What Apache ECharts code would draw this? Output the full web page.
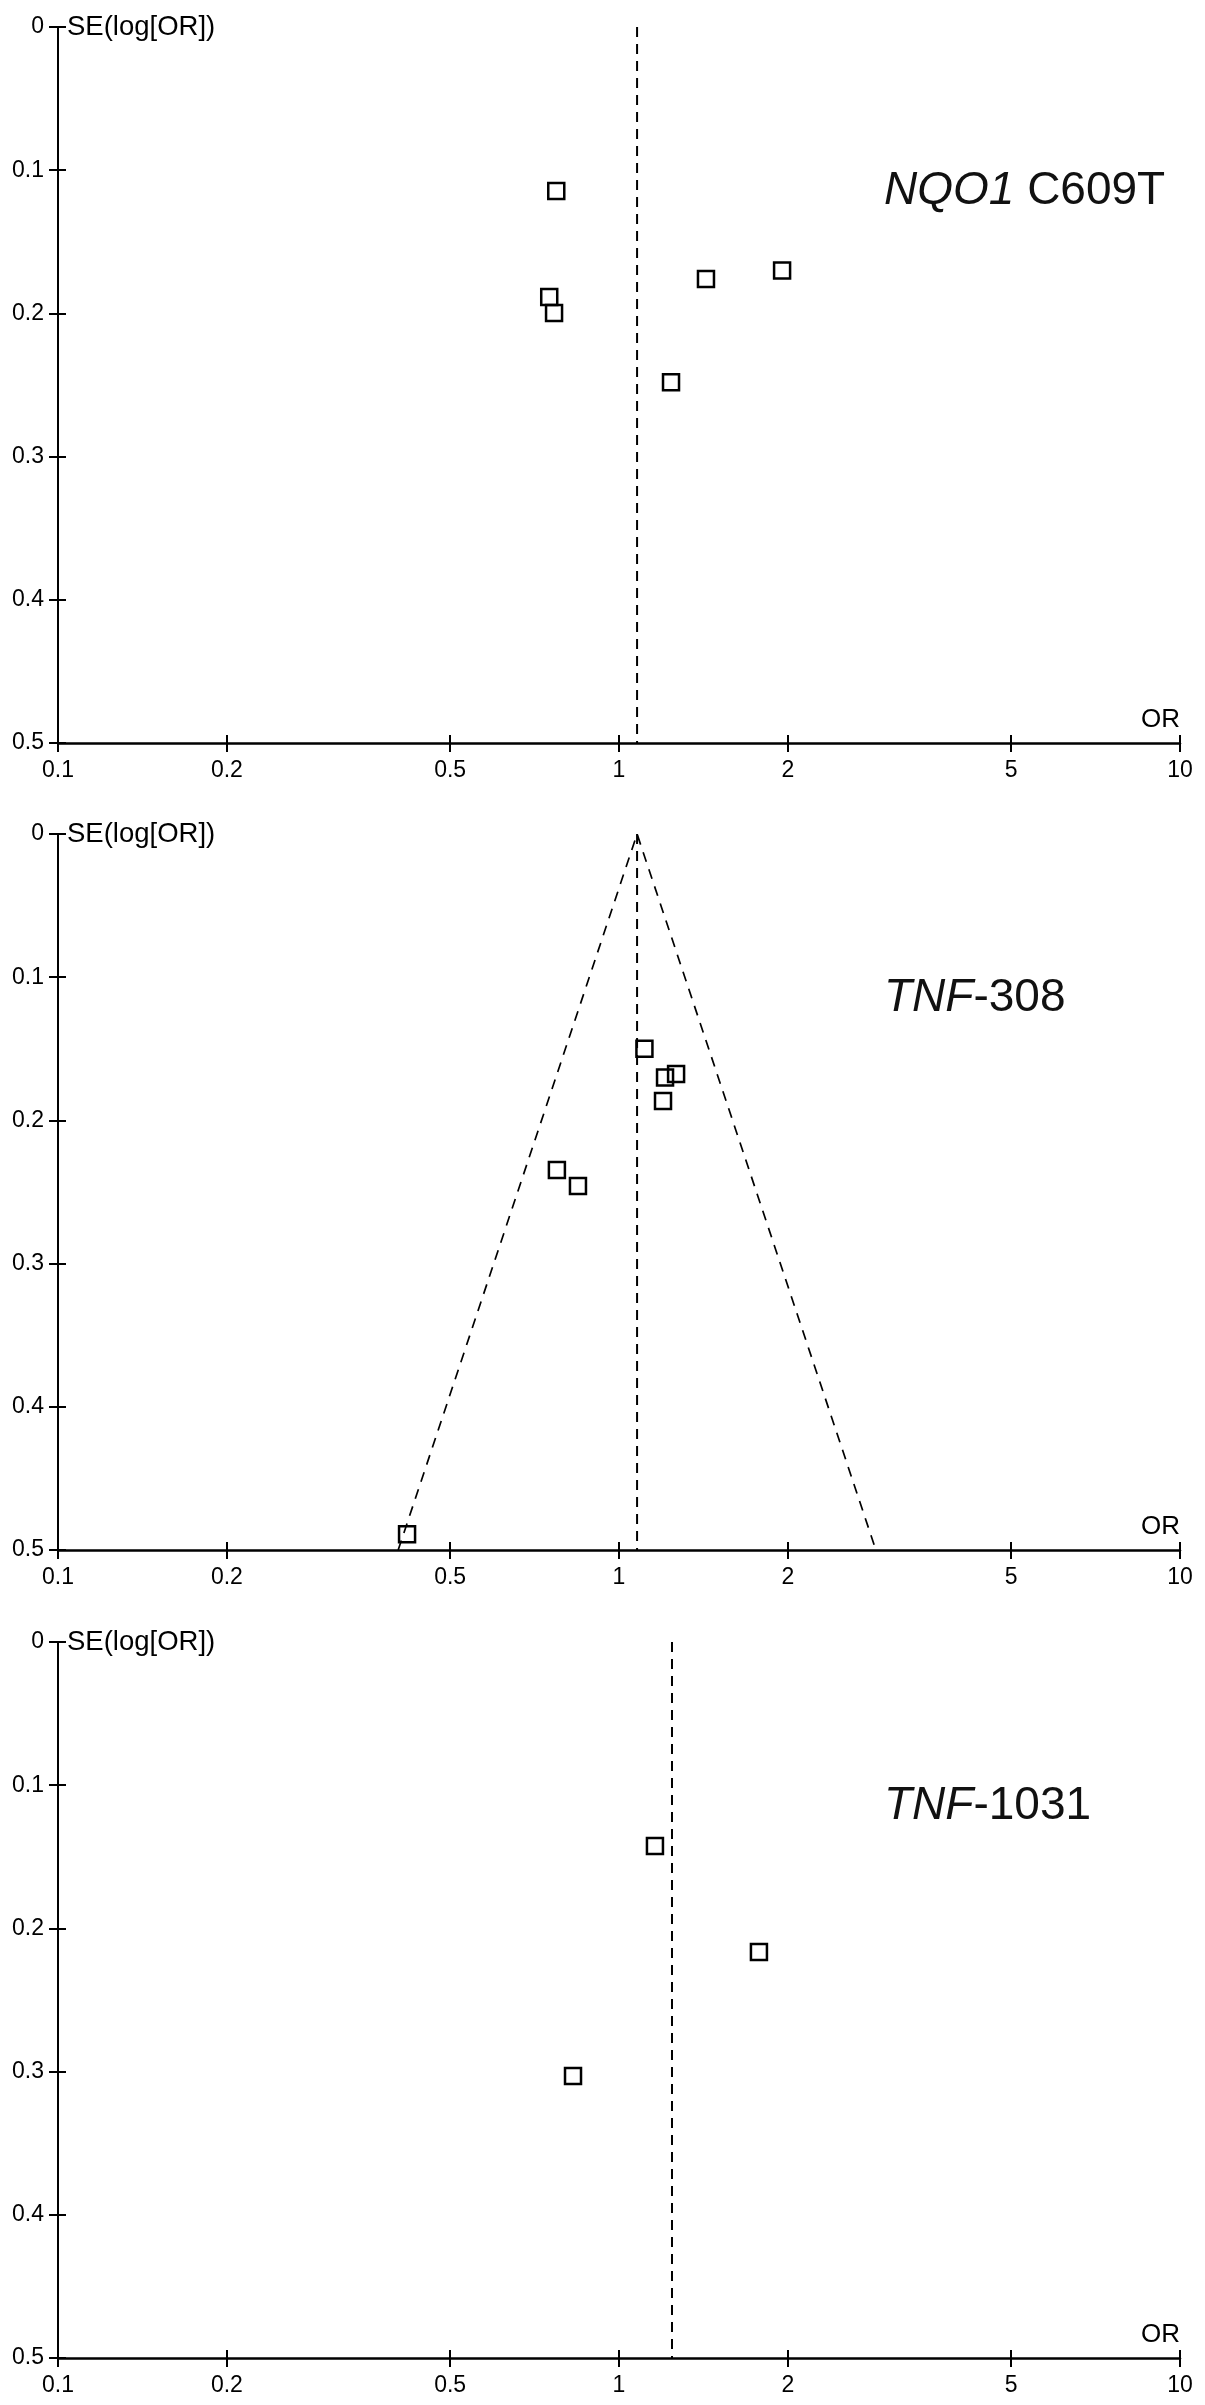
<!DOCTYPE html>
<html>
<head>
<meta charset="utf-8">
<title>Funnel plots</title>
<script src="https://cdn.jsdelivr.net/npm/echarts@6/dist/echarts.min.js"></script>
<style>
  html, body { margin: 0; padding: 0; background: #fff; }
  #main { width: 1205px; height: 2405px; }
</style>
</head>
<body>
<div id="main"></div>
<script>
// axis ticks: OR on a log scale, SE(log[OR]) running downwards
const orTicks = [0.1, 0.2, 0.5, 1, 2, 5, 10];
const orTickLabels = ['0.1', '0.2', '0.5', '1', '2', '5', '10'];
const seTickLabels = ['0', '0.1', '0.2', '0.3', '0.4', '0.5'];

// NQO1 C609T
const nqoOR = [0.773, 0.751, 0.766, 1.429, 1.953, 1.238];
const nqoSE = [0.1145, 0.1886, 0.1997, 0.176, 0.170, 0.248];
const nqoPooled = 1.077;

// TNF-308
const tnf308OR = [1.11, 1.208, 1.264, 1.198, 0.775, 0.845, 0.419];
const tnf308SE = [0.150, 0.170, 0.1676, 0.1865, 0.2346, 0.2458, 0.489];
const tnf308Pooled = 1.077;
const tnf308Limits = [0.404, 2.87]; // pseudo 95% limits at SE = 0.5

// TNF-1031
const tnf1031OR = [1.159, 1.776, 0.828];
const tnf1031SE = [0.1425, 0.2165, 0.303];
const tnf1031Pooled = 1.243;

const FONT = 'Liberation Sans';
const lg = v => Math.log10(v);
const xTickVals = orTicks.map(lg);

function orFormatter(v) {
  let best = 0;
  xTickVals.forEach((t, k) => {
    if (Math.abs(t - v) < Math.abs(xTickVals[best] - v)) best = k;
  });
  return orTickLabels[best];
}

const panels = [
  { top: 27, label: '{i|NQO1}{n| C609T}', or: nqoOR, se: nqoSE, pooled: nqoPooled },
  { top: 834, label: '{i|TNF}{n|-308}', or: tnf308OR, se: tnf308SE, pooled: tnf308Pooled, limits: tnf308Limits },
  { top: 1642, label: '{i|TNF}{n|-1031}', or: tnf1031OR, se: tnf1031SE, pooled: tnf1031Pooled }
];
const plotH = 716;
const black = { color: '#000', width: 2 };

const grid = [], xAxis = [], yAxis = [], series = [], title = [];

panels.forEach((p, i) => {
  grid.push({ left: 58, right: 25, top: p.top, height: plotH });

  // main axes (outer ticks, labels, names)
  xAxis.push({
    gridIndex: i, type: 'value', min: -1, max: 1, position: 'bottom',
    splitLine: { show: false },
    axisLine: { onZero: false, lineStyle: { color: '#000', width: 2.5 } },
    axisTick: { length: 9, customValues: xTickVals, lineStyle: black },
    axisLabel: {
      customValues: xTickVals, formatter: orFormatter, margin: 16,
      color: '#000', fontSize: 23, fontFamily: FONT
    },
    name: 'OR', nameLocation: 'end', nameGap: 0,
    nameTextStyle: {
      align: 'right', verticalAlign: 'bottom', padding: [0, 0, 10, 0],
      color: '#000', fontSize: 26, fontFamily: FONT
    }
  });
  yAxis.push({
    gridIndex: i, type: 'value', min: 0, max: 0.5, interval: 0.1, inverse: true, position: 'left',
    splitLine: { show: false },
    axisLine: { onZero: false, lineStyle: black },
    axisTick: { length: 9, lineStyle: black },
    axisLabel: {
      formatter: v => seTickLabels[Math.round(v * 10)], margin: 14, padding: [10, 0, 0, 0],
      color: '#000', fontSize: 23, fontFamily: FONT
    },
    name: 'SE(log[OR])', nameLocation: 'start', nameGap: 0,
    nameTextStyle: {
      align: 'left', verticalAlign: 'middle', padding: [0, 0, 0, 9],
      color: '#000', fontSize: 27.5, fontFamily: FONT
    }
  });
  // second pair only for the inner half of the crossing ticks
  xAxis.push({
    gridIndex: i, type: 'value', min: -1, max: 1, position: 'bottom',
    splitLine: { show: false }, axisLabel: { show: false },
    axisLine: { show: false, onZero: false },
    axisTick: { inside: true, length: 8, customValues: xTickVals, lineStyle: black }
  });
  yAxis.push({
    gridIndex: i, type: 'value', min: 0, max: 0.5, interval: 0.1, inverse: true, position: 'left',
    splitLine: { show: false }, axisLabel: { show: false },
    axisLine: { show: false, onZero: false },
    axisTick: { inside: true, length: 8, lineStyle: black }
  });

  const xi = i * 2;
  series.push({
    type: 'scatter', xAxisIndex: xi, yAxisIndex: xi, z: 3,
    symbol: 'rect', symbolSize: 16,
    itemStyle: { color: 'rgba(0,0,0,0)', borderColor: '#000', borderWidth: 2.5, opacity: 1 },
    data: p.or.map((o, k) => [lg(o), p.se[k]])
  });
  // pooled estimate
  series.push({
    type: 'line', xAxisIndex: xi, yAxisIndex: xi, symbol: 'none',
    lineStyle: { color: '#000', width: 2, type: [10, 7] },
    data: [[lg(p.pooled), 0], [lg(p.pooled), 0.5]]
  });
  if (p.limits) {
    series.push({
      type: 'line', xAxisIndex: xi, yAxisIndex: xi, symbol: 'none',
      lineStyle: { color: '#000', width: 1.7, type: [10, 8] },
      data: [[lg(p.limits[0]), 0.5], [lg(p.pooled), 0], [lg(p.limits[1]), 0.5]]
    });
  }

  title.push({
    left: 884, top: p.top + 141, padding: 0, text: p.label,
    textStyle: {
      rich: {
        i: { fontStyle: 'italic', fontWeight: 'normal', fontSize: 46, lineHeight: 46, color: '#111', fontFamily: FONT },
        n: { fontWeight: 'normal', fontSize: 46, lineHeight: 46, color: '#111', fontFamily: FONT }
      }
    }
  });
});

const myChart = echarts.init(document.getElementById('main'));
myChart.setOption({
  animation: false,
  backgroundColor: '#fff',
  title: title,
  grid: grid,
  xAxis: xAxis,
  yAxis: yAxis,
  series: series
});
</script>
</body>
</html>
